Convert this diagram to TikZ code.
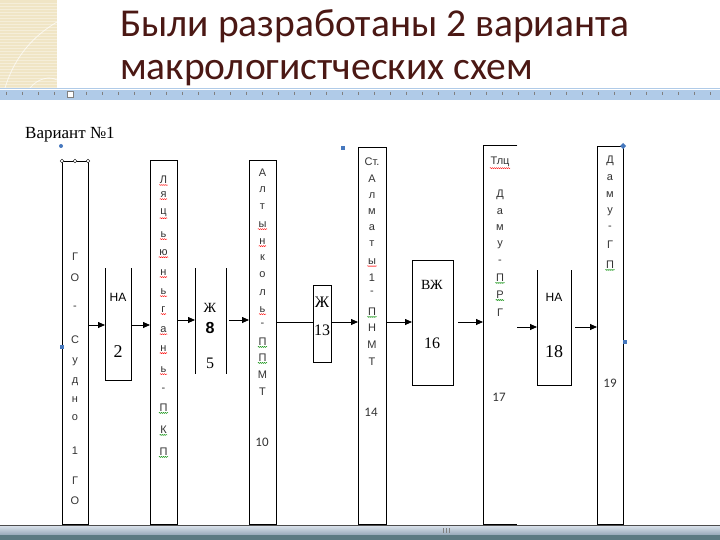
\documentclass[tikz,border=0pt]{standalone}
\usepackage{fontspec}
\setmainfont{Liberation Serif}
\setsansfont{Liberation Sans}
\newfontfamily\titlefont{Carlito}
\usetikzlibrary{arrows.meta, positioning, decorations.pathmorphing}
\definecolor{titlered}{RGB}{75,24,20}
\definecolor{beige}{RGB}{240,229,197}
\definecolor{rulerblue}{RGB}{176,203,232}
\definecolor{handleblue}{RGB}{70,120,190}
\definecolor{bartop}{RGB}{222,229,238}
\definecolor{barbottom}{RGB}{150,168,184}
\definecolor{barteal}{RGB}{92,122,130}
\tikzstyle{column}=[draw, line width=1pt, inner sep=0pt, anchor=north west]
\tikzstyle{frame}=[inner sep=0pt, anchor=north west]
\tikzstyle{letter}=[font=\sffamily\fontsize{11}{13}\selectfont, text=black!80, inner sep=0.5pt]
\tikzstyle{boxtext}=[font=\fontsize{16}{18}\selectfont, inner sep=0pt]
\tikzstyle{boxsans}=[font=\sffamily\fontsize{12}{14}\selectfont, inner sep=0pt]
\tikzstyle{tag}=[font=\titlefont\fontsize{13}{15}\selectfont, text=black!80, inner sep=0pt]
\tikzstyle{flow}=[-{Triangle[length=7pt,width=6pt]}, line width=0.8pt]
\tikzstyle{squig}=[decorate, decoration={snake, amplitude=0.5pt, segment length=2pt}, line width=0.4pt]
% one column of stacked letters: name, x, {letter/y/underline}
\newcommand{\lettercol}[3]{%
  \foreach \ch/\yy/\sq [count=\i] in {#3} {%
    \node[letter] (#1-\i) at (#2,\yy) {\ch};
    \ifcase\sq
    \or \draw[squig, red] ([yshift=-0.5pt]#1-\i.south west) -- ([yshift=-0.5pt]#1-\i.south east);
    \or \draw[squig, green!55!black] ([yshift=-0.5pt]#1-\i.south west) -- ([yshift=-0.5pt]#1-\i.south east);
    \fi
  }}

\begin{document}
\begin{tikzpicture}[x=1pt, y=-1pt]
  \useasboundingbox (0,0) rectangle (720,540);
  \fill[white] (0,0) rectangle (720,540);
  % slide corner and rulers
  \fill[beige] (0,0) rectangle (57,88);
  \foreach \ty in {3,6,...,87} \draw[white, opacity=0.35, line width=0.4pt] (0,\ty) -- (57,\ty);
  \draw[white, opacity=0.7, line width=0.8pt] (5,88) .. controls (15,55) and (35,35) .. (57,22);
  \draw[white, opacity=0.7, line width=0.8pt] (30,88) .. controls (38,78) and (50,76) .. (57,80);
  \fill[rulerblue] (0,88) rectangle (720,100);
  \draw[white] (0,89) -- (720,89);
  \foreach \tx in {6,22,...,720} \draw[gray, line width=0.5pt] (\tx,92) -- (\tx,95);
  \draw[gray, fill=white, line width=0.5pt] (67,91) rectangle (73,97);
  \shade[top color=bartop, bottom color=barbottom] (0,525) rectangle (720,535);
  \fill[barteal] (0,535) rectangle (720,540);
  \draw[gray!60!black, line width=0.6pt] (0,525) -- (720,525);
  \foreach \sx in {443,446,449} \draw[gray, line width=0.5pt] (\sx,528) -- (\sx,533);

  % titles
  \node[anchor=base west, font=\titlefont\fontsize{39.5}{42}\selectfont, text=titlered, inner sep=0pt] (title1) at (120,37) {Были разработаны 2 варианта};
  \node[anchor=base west, font=\titlefont\fontsize{39.5}{42}\selectfont, text=titlered, inner sep=0pt] (title2) at (120,80) {макрологистческих схем};
  \node[anchor=base west, font=\fontsize{17}{19}\selectfont, inner sep=0pt] (variant) at (25,139) {Вариант №1};

  % columns and boxes
  \node[column, minimum width=26pt, minimum height=363pt] (go) at (62,161) {};
  \node[frame, minimum width=26pt, minimum height=112pt] (na2) at (105,268) {};
  \node[column, minimum width=27pt, minimum height=364pt] (lc) at (150,160) {};
  \node[frame, minimum width=31pt, minimum height=106pt] (zh8) at (195,268) {};
  \node[column, minimum width=27pt, minimum height=364pt] (alt) at (249,160) {};
  \node[column, minimum width=18pt, minimum height=77pt] (zh13) at (313,285) {};
  \node[column, minimum width=28pt, minimum height=377pt] (st) at (358,147) {};
  \node[column, minimum width=41pt, minimum height=125pt] (vzh) at (412,260) {};
  \node[frame, minimum width=34pt, minimum height=378pt] (tlc) at (483,146) {};
  \node[frame, minimum width=34pt, minimum height=115pt] (na18) at (537,270) {};
  \node[column, minimum width=26pt, minimum height=378pt] (damu) at (597,146) {};
  \draw[line width=1pt] (na2.north west) -- (na2.south west) -- (na2.south east) -- (na2.north east);
  \draw[line width=1pt] (zh8.north west) -- (zh8.south west) (zh8.north east) -- (zh8.south east);
  \draw[line width=1pt] (tlc.north east) -- (tlc.north west) -- (tlc.south west) -- (tlc.south east);
  \draw[line width=1pt] (na18.north west) -- (na18.south west) -- (na18.south east) -- (na18.north east);

  % texts in the columns
  \lettercol{go}{75}{Г/257/0, О/278/0, -/308/0, С/340/0, у/362/0, д/382/0, н/400/0, о/418/0, 1/451/0, Г/481/0, О/501/0}
  \lettercol{lc}{163.5}{Л/180/1, я/195/1, ц/213/1, ь/235/1, ю/253/1, н/273/1, ь/292/1, г/310/1, а/330/1, н/349/1, ь/370/1, -/390/0, П/408/2, К/430/2, П/452/2}
  \lettercol{alt}{262.5}{А/173/0, л/190/0, т/207/0, ы/225/1, н/242/1, к/258/0, о/275/0, л/293/0, ь/310/1, -/325/0, П/342/2, П/358/2, М/375/0, Т/392/0}
  \lettercol{st}{372}{Ст./162/0, А/179/0, л/196/0, м/212/0, а/228/0, т/244/0, ы/262/1, 1/278/0, -/293/0, П/312/2, Н/328/0, М/345/0, Т/362/0}
  \lettercol{tlc}{500}{Тлц/162/1, Д/195/0, а/212/0, м/228/0, у/245/0, -/262/0, П/278/2, Р/295/2, Г/313/0}
  \lettercol{damu}{610}{Д/161/0, а/178/0, м/195/0, у/212/0, -/228/0, Г/245/0, П/265/2}
  \node[tag] (alt-n) at (262,442) {10};
  \node[tag] (st-n) at (371,412) {14};
  \node[tag] (tlc-n) at (499,397) {17};
  \node[tag] (damu-n) at (610,383) {19};

  % texts in the boxes
  \node[boxsans] (na2-a) at (118,297) {НА};
  \node[boxtext, font=\fontsize{18}{20}\selectfont] (na2-n) at (118,352) {2};
  \node[boxtext, font=\fontsize{14}{16}\selectfont] (zh8-a) at (210,308) {Ж};
  \node[boxsans, font=\sffamily\bfseries\fontsize{16}{18}\selectfont] (zh8-n) at (210,328) {8};
  \node[boxtext] (zh8-b) at (210,363) {5};
  \node[boxtext] (zh13-a) at (322,302) {Ж};
  \node[boxtext] (zh13-n) at (322,330) {13};
  \node[boxtext, font=\fontsize{14}{16}\selectfont] (vzh-a) at (432,285) {ВЖ};
  \node[boxtext] (vzh-n) at (432,343) {16};
  \node[boxsans] (na18-a) at (554,297) {НА};
  \node[boxtext, font=\fontsize{18}{20}\selectfont] (na18-n) at (554,352) {18};

  % connectors
  \coordinate (rowA) at (0,325);
  \coordinate (rowB) at (0,320);
  \coordinate (rowC) at (0,322);
  \coordinate (rowD) at (0,327);
  \draw[flow] (rowA -| go.east) -- (rowA -| na2.west);
  \draw[flow] (rowA -| na2.east) -- (rowA -| lc.west);
  \draw[flow] (rowB -| lc.east) -- (rowB -| zh8.west);
  \draw[flow] ([xshift=3pt]rowB -| zh8.east) -- (rowB -| alt.west);
  \draw[line width=0.8pt] (rowC -| alt.east) -- (rowC -| zh13.west);
  \draw[flow] (rowC -| zh13.east) -- (rowC -| st.west);
  \draw[flow] (rowC -| st.east) -- (rowC -| vzh.west);
  \draw[flow] ([xshift=4pt]rowC -| vzh.east) -- (rowC -| tlc.west);
  \draw[flow] (rowD -| tlc.east) -- (rowD -| na18.west);
  \draw[flow] ([xshift=4pt]rowD -| na18.east) -- (rowD -| damu.west);

  % selection handles
  \foreach \hx in {62,75,88} \draw[fill=white, line width=0.4pt] (\hx,161) circle (1.8pt);
  \fill[handleblue] (61,146) circle (2pt);
  \fill[handleblue] (60,345) rectangle (64,349);
  \fill[handleblue] (341,146) rectangle (345,150);
  \fill[handleblue] (623,143) -- (626,146) -- (623,149) -- (620,146) -- cycle;
  \fill[handleblue] (623,340) rectangle (627,344);
\end{tikzpicture}
\end{document}
